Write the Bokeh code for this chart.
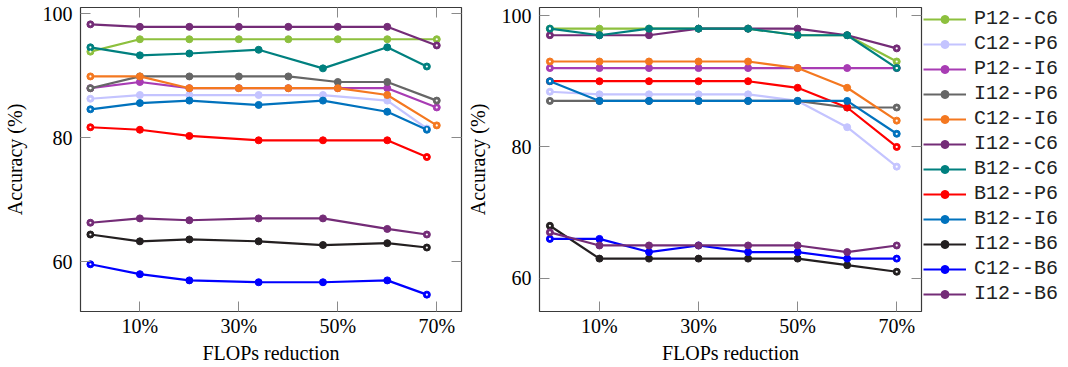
from bokeh.plotting import figure
from bokeh.models import Range1d, FixedTicker, LinearAxis, Legend, LegendItem
from bokeh.layouts import row
from bokeh.embed import file_html
from bokeh.resources import INLINE

# ---------------- data ----------------
series_names = ["P12--C6", "C12--P6", "P12--I6", "I12--P6", "C12--I6", "I12--C6",
                "B12--C6", "B12--P6", "B12--I6", "I12--B6", "C12--B6", "I12--B6"]
series_colors = ["#8DC03E", "#C4C4FF", "#A83CB4", "#666666", "#F47820", "#742C77",
                 "#00807F", "#FF0000", "#0072BD", "#231F20", "#0000FF", "#742C77"]

x_full = [0, 10, 20, 30, 40, 50, 60, 70]
x_part = [0, 10, 20, 34, 47, 60, 68]

x_ticks = [10, 30, 50, 70]
x_tick_labels = ["10%", "30%", "50%", "70%"]
y_ticks = [60, 80, 100]

# left panel
left_P12_C6 = [93.9, 95.9, 95.9, 95.9, 95.9, 95.9, 95.9, 95.9]
left_C12_P6 = [86.3, 86.9, 86.9, 86.9, 86.9, 86.0, 81.5]
left_P12_I6 = [88.0, 89.0, 88.0, 88.0, 88.0, 88.0, 88.0, 84.9]
left_I12_P6 = [88.0, 89.9, 89.9, 89.9, 89.9, 89.0, 89.0, 86.0]
left_C12_I6 = [89.9, 89.9, 88.0, 88.0, 88.0, 88.0, 86.9, 82.0]
left_I12_C6 = [98.3, 97.9, 97.9, 97.9, 97.9, 97.9, 97.9, 94.9]
left_B12_C6 = [94.6, 93.3, 93.6, 94.2, 91.2, 94.6, 91.5]
left_B12_P6 = [81.7, 81.3, 80.3, 79.6, 79.6, 79.6, 76.9]
left_B12_I6 = [84.6, 85.6, 86.0, 85.3, 86.0, 84.2, 81.3]
left_I12_B6 = [64.4, 63.3, 63.6, 63.3, 62.7, 63.0, 62.3]
left_C12_B6 = [59.6, 58.0, 57.0, 56.7, 56.7, 57.0, 54.7]
left_I12_B6b = [66.3, 67.0, 66.7, 67.0, 67.0, 65.3, 64.4]

left_x = [x_full, x_part, x_full, x_full, x_full, x_full,
          x_part, x_part, x_part, x_part, x_part, x_part]
left_y = [left_P12_C6, left_C12_P6, left_P12_I6, left_I12_P6, left_C12_I6, left_I12_C6,
          left_B12_C6, left_B12_P6, left_B12_I6, left_I12_B6, left_C12_B6, left_I12_B6b]

# right panel
right_P12_C6 = [98, 98, 98, 98, 98, 97, 97, 93]
right_C12_P6 = [88.4, 88, 88, 88, 88, 87, 83, 77]
right_P12_I6 = [92, 92, 92, 92, 92, 92, 92, 92]
right_I12_P6 = [87, 87, 87, 87, 87, 87, 86, 86]
right_C12_I6 = [93, 93, 93, 93, 93, 92, 89, 84]
right_I12_C6 = [97, 97, 97, 98, 98, 98, 97, 95]
right_B12_C6 = [98, 97, 98, 98, 98, 97, 97, 92]
right_B12_P6 = [90, 90, 90, 90, 90, 89, 86, 80]
right_B12_I6 = [90, 87, 87, 87, 87, 87, 87, 82]
right_I12_B6 = [68, 63, 63, 63, 63, 63, 62, 61]
right_C12_B6 = [66, 66, 64, 65, 64, 64, 63, 63]
right_I12_B6b = [67, 65, 65, 65, 65, 65, 64, 65]

right_x = [x_full] * 12
right_y = [right_P12_C6, right_C12_P6, right_P12_I6, right_I12_P6, right_C12_I6, right_I12_C6,
           right_B12_C6, right_B12_P6, right_B12_I6, right_I12_B6, right_C12_B6, right_I12_B6b]

SERIF = "Liberation Serif"
TICK_COLOR = "#8a8a8a"


def mirror_axis(ticks, where, p):
    ax = LinearAxis(ticker=FixedTicker(ticks=ticks),
                    major_label_overrides={t: "" for t in ticks},
                    major_label_text_font_size="1px", major_label_standoff=0,
                    axis_label_standoff=0,
                    major_tick_in=10, major_tick_out=0,
                    major_tick_line_color=TICK_COLOR, minor_tick_line_color=None,
                    axis_line_color=None)
    p.add_layout(ax, where)


def draw_series(p, xs, ys):
    rends = []
    for color, x, y in zip(series_colors, xs, ys):
        ln = p.line(x, y, line_color=color, line_width=2.2)
        mk = p.scatter(x, y, marker="circle", size=7, fill_color=color, line_color=color)
        rends.append((ln, mk))
    return rends


def make_fig(fw, bl, br, xr, yr, xs, ys, label_standoff):
    p = figure(frame_width=fw, frame_height=304, output_backend="svg", toolbar_location=None,
               x_range=Range1d(*xr), y_range=Range1d(*yr),
               min_border_left=bl, min_border_right=br, min_border_top=7,
               min_border_bottom=0)
    p.xgrid.visible = False
    p.ygrid.visible = False
    p.outline_line_color = "#3a3a3a"
    p.outline_line_width = 1.2
    p.background_fill_color = "white"
    p.border_fill_color = "white"

    xa = p.xaxis[0]
    xa.ticker = FixedTicker(ticks=x_ticks)
    xa.major_label_overrides = dict(zip(x_ticks, x_tick_labels))
    xa.axis_label = "FLOPs reduction"
    ya = p.yaxis[0]
    ya.ticker = FixedTicker(ticks=y_ticks)
    ya.axis_label = "Accuracy (%)"
    for ax in (xa, ya):
        ax.major_tick_in = 10
        ax.major_tick_out = 0
        ax.major_tick_line_color = TICK_COLOR
        ax.minor_tick_line_color = None
        ax.axis_line_color = None
        ax.major_label_text_font = SERIF
        ax.major_label_text_font_size = "20px"
        ax.major_label_text_color = "black"
        ax.axis_label_text_font = SERIF
        ax.axis_label_text_font_size = "20px"
        ax.axis_label_text_font_style = "normal"
        ax.axis_label_text_color = "black"
    xa.major_label_standoff = 3
    xa.axis_label_standoff = 2
    ya.major_label_standoff = 8
    ya.axis_label_standoff = label_standoff

    mirror_axis(x_ticks, "above", p)
    mirror_axis(y_ticks, "right", p)

    draw_series(p, xs, ys)
    for x, y in zip(xs, ys):
        p.scatter([x[0], x[-1]], [y[0], y[-1]], marker="circle", size=2.2,
                  fill_color="white", line_color=None)
    return p


p1 = make_fig(381, 80, 2, (-2.0, 75.0), (51.98, 101.02), left_x, left_y, 14)
p2 = make_fig(382, 76, 2, (-2.1, 75.0), (54.95, 101.22), right_x, right_y, 10)

# legend panel: same series, drawn outside its (empty) view so only the legend shows
p3 = figure(width=145, height=360, output_backend="svg", toolbar_location=None,
            x_range=Range1d(1000, 1001), y_range=Range1d(1000, 1001),
            x_axis_location=None, y_axis_location=None,
            min_border_left=0, min_border_right=0, min_border_bottom=0, min_border_top=3)
p3.xgrid.visible = False
p3.ygrid.visible = False
p3.outline_line_color = None
rends = draw_series(p3, right_x, right_y)
items = [LegendItem(label=n, renderers=[ln, mk]) for n, (ln, mk) in zip(series_names, rends)]
legend = Legend(items=items, location="top_left", glyph_width=43, glyph_height=20,
                label_height=20, label_standoff=8, spacing=2, padding=7, margin=0,
                label_text_font="Liberation Mono", label_text_font_size="20px",
                label_text_color="#222222",
                border_line_color=None, background_fill_alpha=0)
p3.add_layout(legend)

layout = row(p1, p2, p3)
open("out.html", "w").write(file_html(layout, INLINE))
